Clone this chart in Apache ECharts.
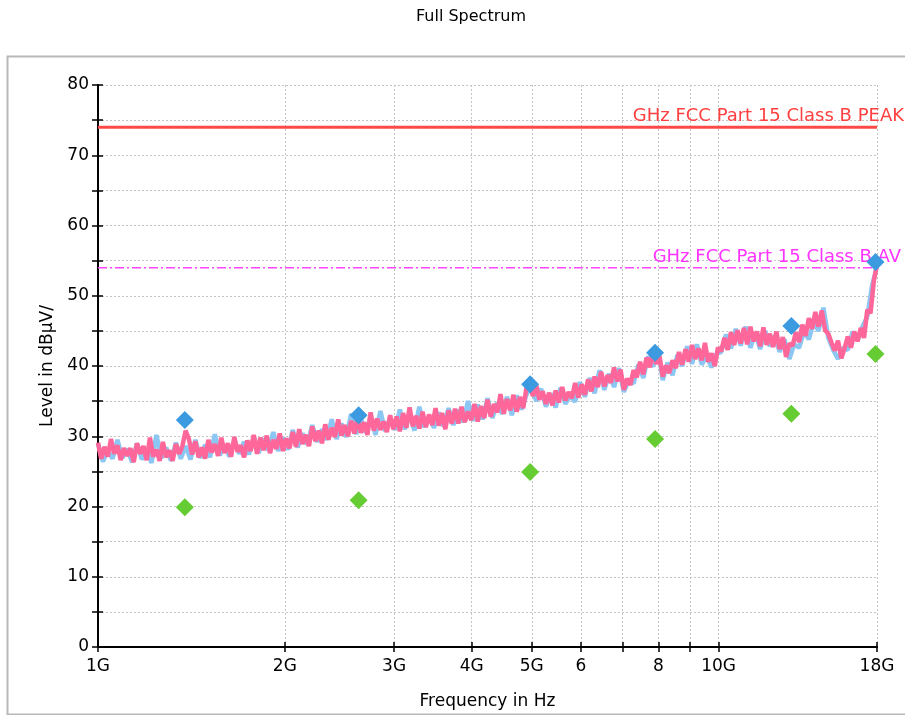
<!DOCTYPE html>
<html><head><meta charset="utf-8">
<script src="https://cdn.jsdelivr.net/npm/echarts@6.0.0/dist/echarts.min.js"></script>
<style>html,body{margin:0;padding:0;background:#fff}#chart{width:905px;height:715px}</style>
</head><body><div id="chart"></div>
<script>
// ---- data ----
const titleText = 'Full Spectrum';
const xTickValues = [1, 2, 3, 4, 5, 6, 7, 8, 9, 10, 18];          // GHz
const xLabelValues = [1, 2, 3, 4, 5, 6, 8, 10, 18];
const xTickLabels = ['1G', '2G', '3G', '4G', '5G', '6', '8', '10G', '18G'];
const yTickLabels = ['0', '10', '20', '30', '40', '50', '60', '70', '80'];
const sweepStartGHz = 1;
const sweepStopGHz = 18;

// pink trace (log sweep 1..18 GHz)
const pinkTrace = [
 29.1,26.8,28.5,27.1,29.6,27.5,28.7,26.6,28.3,27.2,
 28.3,26.3,29.0,27.5,28.6,26.6,29.8,27.1,28.1,26.5,
 29.2,27.0,28.0,26.5,28.9,27.5,28.6,30.8,29.6,27.4,
 29.3,27.0,28.4,26.8,29.5,27.7,28.9,27.2,29.8,27.6,
 29.0,27.1,29.9,27.8,28.7,27.0,29.4,27.9,30.2,27.5,
 29.8,28.0,30.1,27.6,29.5,28.2,30.4,27.9,29.7,28.3,
 30.6,28.5,31.0,28.9,30.2,28.6,31.4,29.3,30.8,29.0,
 31.7,29.5,31.2,29.9,32.4,30.1,31.6,30.0,32.2,30.4,
 32.6,30.5,32.0,30.2,33.4,30.8,32.5,30.9,32.1,30.6,
 33.0,31.0,32.8,30.7,33.3,31.2,34.1,31.4,32.9,31.1,
 33.5,31.3,33.1,31.6,34.0,31.5,33.3,31.0,33.7,31.8,
 33.9,31.8,34.2,32.0,33.5,32.3,34.6,32.1,34.3,32.6,
 35.2,32.8,34.6,33.4,36.0,33.2,35.3,33.7,35.9,33.5,
 35.6,34.0,36.9,37.5,35.7,37.3,35.2,36.4,34.6,36.2,
 34.4,36.5,34.8,37.0,35.1,36.3,35.4,37.6,35.5,37.4,
 35.9,38.1,36.4,38.5,37.0,39.2,37.1,38.7,37.6,39.8,
 37.8,39.5,36.6,38.2,37.3,39.4,38.4,40.6,38.8,41.2,
 39.8,42.2,40.3,41.4,38.5,40.1,39.0,40.8,39.7,42.0,
 40.2,42.4,40.6,43.0,41.0,42.5,40.8,43.3,40.6,41.8,
 40.0,42.6,42.1,44.0,42.3,44.8,43.0,45.1,43.2,45.4,
 43.1,45.6,43.5,44.9,42.8,45.5,43.0,44.6,42.7,44.9,
 42.4,44.1,41.3,43.2,42.9,44.8,43.4,45.9,44.3,46.8,
 45.3,47.7,45.6,47.9,45.1,44.6,43.3,42.2,43.6,41.1,
 42.5,44.2,42.6,44.9,43.5,45.4,44.0,48.0,47.5,52.0,54.5
];

// light blue trace (log sweep 1..18 GHz)
const blueTrace = [
 28.9,26.4,28.0,26.8,29.5,26.9,28.2,26.3,29.0,26.7,
 28.1,26.2,30.2,26.9,28.4,26.5,29.1,26.8,28.6,26.7,
 29.5,26.9,28.8,27.0,30.3,27.3,28.7,27.1,29.4,27.5,
 29.2,27.4,30.0,27.6,29.7,28.0,30.6,27.9,29.8,28.1,
 30.9,28.4,30.4,28.8,31.6,29.2,31.0,29.5,32.4,29.6,
 31.8,29.9,33.2,30.3,32.4,30.5,32.8,30.2,33.6,30.7,
 32.6,30.9,33.8,31.0,33.1,30.8,34.2,31.3,32.9,31.2,
 33.4,31.4,34.0,31.6,33.8,32.0,35.0,32.2,34.5,32.4,
 35.4,32.6,34.8,33.2,35.6,33.0,35.8,33.8,35.9,37.2,
 35.0,36.8,34.2,36.1,34.1,36.9,34.6,35.8,34.9,37.7,
 35.6,38.3,36.1,39.4,36.6,38.9,37.0,39.7,36.3,38.0,
 37.5,40.2,38.3,41.4,39.9,42.3,38.0,40.5,38.7,41.6,
 40.0,42.8,40.3,43.1,40.2,41.4,39.8,41.7,42.0,44.5,
 42.5,45.3,42.9,45.6,42.6,44.8,42.4,45.0,42.8,44.3,
 42.0,43.8,41.0,43.1,42.6,44.9,43.8,46.2,45.0,48.3,
 44.0,42.3,41.0,42.6,42.3,44.9,43.6,45.6,47.0,51.5,54.2
];

// final measurement markers
const markerFreq = [1.38, 2.63, 4.97, 7.9, 13.1, 17.9];   // GHz
const markerPeak = [32.3, 33.0, 37.4, 41.9, 45.7, 54.8];
const markerAvg  = [19.9, 20.9, 24.9, 29.6, 33.2, 41.7];

// limits
const peakLimit = 74;
const avLimit = 54;
const peakLimitLabel = 'GHz FCC Part 15 Class B PEAK';
const avLimitLabel = 'GHz FCC Part 15 Class B AV';

// ---- build ----
function sweep(n) {
  const out = [];
  const r = Math.log(sweepStopGHz / sweepStartGHz);
  for (let i = 0; i < n; i++) out.push(sweepStartGHz * Math.exp(r * i / (n - 1)));
  return out;
}
const pinkF = sweep(pinkTrace.length);
const blueF = sweep(blueTrace.length);
const pinkData = pinkTrace.map((v, i) => [pinkF[i], v]);
const blueData = blueTrace.map((v, i) => [blueF[i], v]);
const peakPts = markerFreq.map((f, i) => [f, markerPeak[i]]);
const avgPts = markerFreq.map((f, i) => [f, markerAvg[i]]);

const FONT = 'DejaVu Sans';
const labelMap = {};
xLabelValues.forEach((v, i) => labelMap[v] = xTickLabels[i]);

const chart = echarts.init(document.getElementById('chart'), null, {renderer: 'canvas'});
const baseX = {
  type: 'log', logBase: 10, min: sweepStartGHz, max: sweepStopGHz,
  position: 'bottom'
};
const baseY = { type: 'value', min: 0, max: 80, interval: 5, position: 'left' };

chart.setOption({
  animation: false,
  backgroundColor: '#ffffff',
  title: {
    text: titleText, left: 466, top: 4, textAlign: 'center',
    textStyle: { fontFamily: FONT, fontSize: 16, fontWeight: 'normal', color: '#000' }
  },
  graphic: [{
    type: 'rect', left: 5, top: 54, z: -10,
    shape: { width: 920, height: 658 },
    style: { fill: 'none', stroke: '#b8b8b8', lineWidth: 2 }
  }],
  grid: { left: 98, right: 28, top: 85, bottom: 68, containLabel: false },
  xAxis: [
    Object.assign({}, baseX, {
      name: 'Frequency in Hz', nameLocation: 'middle', nameGap: 46,
      nameTextStyle: { fontFamily: FONT, fontSize: 17, color: '#000' },
      axisLine: { show: true, lineStyle: { color: '#000', width: 2 } },
      axisTick: { show: true, inside: false, length: 5, customValues: xTickValues, lineStyle: { color: '#000', width: 1.5 } },
      axisLabel: {
        show: true, customValues: xLabelValues, margin: 11,
        fontFamily: FONT, fontSize: 17, color: '#000',
        formatter: v => labelMap[Math.round(v)] || ''
      },
      minorTick: { show: false },
      splitLine: { show: true, lineStyle: { color: '#c4c4c4', width: 1, type: [2, 2] } }
    }),
    Object.assign({}, baseX, {
      axisLine: { show: false },
      axisTick: { show: true, inside: true, length: 5, customValues: xTickValues, lineStyle: { color: '#000', width: 1.5 } },
      axisLabel: { show: false },
      splitLine: { show: false }
    })
  ],
  yAxis: [
    Object.assign({}, baseY, {
      name: 'Level in dBμV/', nameLocation: 'middle', nameGap: 40,
      nameTextStyle: { fontFamily: FONT, fontSize: 17, color: '#000' },
      axisLine: { show: true, lineStyle: { color: '#000', width: 2 } },
      axisTick: { show: true, inside: false, length: 6, lineStyle: { color: '#000', width: 1.5 } },
      axisLabel: {
        margin: 9, fontFamily: FONT, fontSize: 17, color: '#000',
        formatter: v => (yTickLabels.indexOf(String(v)) >= 0 ? String(v) : '')
      },
      splitLine: { show: true, lineStyle: { color: '#c4c4c4', width: 1, type: [2, 2] } }
    }),
    Object.assign({}, baseY, {
      axisLine: { show: false },
      axisTick: { show: true, inside: true, length: 5, lineStyle: { color: '#000', width: 1.5 } },
      axisLabel: { show: false },
      splitLine: { show: false }
    })
  ],
  series: [
    {
      type: 'line', data: blueData, showSymbol: false, symbol: 'none',
      lineStyle: { color: '#8cc6f2', width: 4.5, join: 'bevel' }, z: 2, silent: true
    },
    {
      type: 'line', data: pinkData, showSymbol: false, symbol: 'none',
      lineStyle: { color: '#ff6699', width: 4.5, join: 'bevel' }, z: 3, silent: true
    },
    {
      type: 'line', data: [[sweepStartGHz, peakLimit], [sweepStopGHz, peakLimit]],
      showSymbol: false, symbol: 'none', lineStyle: { color: '#ff4848', width: 3 }, z: 4
    },
    {
      type: 'line', data: [[sweepStartGHz, avLimit], [sweepStopGHz, avLimit]],
      showSymbol: false, symbol: 'none', lineStyle: { color: '#ff44ff', width: 1.5, type: [9, 3, 2, 3] }, z: 4
    },
    {
      type: 'scatter', data: [[sweepStopGHz, peakLimit]], symbolSize: 1,
      itemStyle: { color: 'transparent', opacity: 1 }, z: 5,
      label: { show: true, position: 'top', align: 'right', offset: [27, 4],
        formatter: peakLimitLabel, fontFamily: FONT, fontSize: 18, color: '#ff4040', opacity: 1 }
    },
    {
      type: 'scatter', data: [[sweepStopGHz, avLimit]], symbolSize: 1,
      itemStyle: { color: 'transparent', opacity: 1 }, z: 5,
      label: { show: true, position: 'top', align: 'right', offset: [24, 4],
        formatter: avLimitLabel, fontFamily: FONT, fontSize: 18, color: '#ff33ff', opacity: 1 }
    },
    {
      type: 'scatter', data: peakPts, symbol: 'diamond', symbolSize: 18,
      itemStyle: { color: '#3c9ae0', opacity: 1 }, z: 6
    },
    {
      type: 'scatter', data: avgPts, symbol: 'diamond', symbolSize: 18,
      itemStyle: { color: '#66cc33', opacity: 1 }, z: 6
    }
  ]
});
</script>
</body></html>
